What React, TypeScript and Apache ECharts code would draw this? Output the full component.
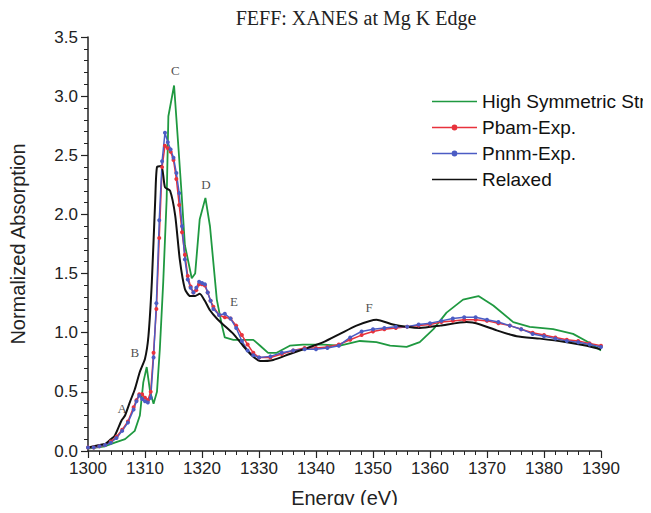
import React, { useEffect, useRef } from "react";
import * as echarts from "echarts";

// ---- Data ----
const seriesNames = ["High Symmetric Str.", "Pbam-Exp.", "Pnnm-Exp.", "Relaxed"];

const highSymE = [1300, 1303, 1304.7, 1306.5, 1308.2, 1309.1, 1309.7, 1310.3, 1310.9, 1311.5, 1312.1, 1312.6, 1313.2, 1313.8, 1314.1, 1315.1, 1315.8, 1316.4, 1317, 1318.2, 1318.8, 1319.6, 1320.6, 1321.4, 1322.6, 1323.5, 1324, 1325.5, 1327.2, 1329, 1330.2, 1331.6, 1333.1, 1335.4, 1337.7, 1341.3, 1344.2, 1347.7, 1350.6, 1353, 1355.9, 1358.2, 1360.6, 1362.9, 1365.8, 1368.5, 1371.1, 1374.6, 1377.5, 1381.6, 1385.1, 1387.8, 1390];
const highSymA = [0.02, 0.04, 0.07, 0.10, 0.17, 0.30, 0.58, 0.71, 0.50, 0.40, 0.50, 0.86, 1.43, 2.13, 2.83, 3.09, 2.61, 2.19, 1.74, 1.46, 1.50, 1.96, 2.14, 1.90, 1.28, 1.06, 0.96, 0.94, 0.94, 0.94, 0.89, 0.83, 0.83, 0.89, 0.90, 0.90, 0.89, 0.93, 0.92, 0.89, 0.88, 0.92, 1.03, 1.17, 1.28, 1.31, 1.23, 1.09, 1.05, 1.03, 0.99, 0.92, 0.85];

const pbamE = [1300, 1301, 1302, 1303, 1304, 1305, 1306, 1307, 1308, 1308.5, 1309, 1309.5, 1310, 1310.5, 1311, 1311.5, 1312, 1312.5, 1313, 1313.5, 1314, 1314.5, 1315, 1315.5, 1316, 1316.5, 1317, 1317.5, 1318, 1318.5, 1319, 1319.5, 1320, 1320.5, 1321, 1321.5, 1322, 1323, 1324, 1325, 1326, 1327, 1328, 1329, 1330, 1332, 1334, 1336, 1338, 1340, 1342, 1344, 1346, 1348, 1350, 1352, 1354, 1356, 1358, 1360, 1362, 1364, 1366, 1368, 1370, 1372, 1374, 1376, 1378, 1380, 1382, 1384, 1386, 1388, 1390];
const pbamA = [0.03, 0.03, 0.04, 0.05, 0.08, 0.12, 0.18, 0.25, 0.37, 0.43, 0.48, 0.48, 0.45, 0.43, 0.50, 0.83, 1.20, 1.80, 2.40, 2.58, 2.56, 2.53, 2.46, 2.30, 2.08, 1.85, 1.66, 1.48, 1.39, 1.34, 1.36, 1.41, 1.41, 1.40, 1.34, 1.27, 1.22, 1.15, 1.13, 1.12, 1.06, 0.98, 0.90, 0.83, 0.79, 0.79, 0.82, 0.85, 0.87, 0.87, 0.88, 0.90, 0.94, 0.98, 1.01, 1.03, 1.04, 1.05, 1.06, 1.07, 1.09, 1.10, 1.11, 1.11, 1.10, 1.08, 1.06, 1.03, 1.00, 0.98, 0.96, 0.94, 0.93, 0.91, 0.89];

const pnnmE = pbamE;
const pnnmA = [0.03, 0.03, 0.04, 0.05, 0.07, 0.11, 0.17, 0.24, 0.35, 0.42, 0.47, 0.44, 0.42, 0.41, 0.45, 0.79, 1.25, 1.95, 2.45, 2.69, 2.61, 2.55, 2.48, 2.35, 2.18, 1.90, 1.62, 1.45, 1.38, 1.34, 1.38, 1.43, 1.42, 1.41, 1.34, 1.27, 1.20, 1.15, 1.16, 1.12, 1.04, 0.93, 0.85, 0.81, 0.79, 0.80, 0.83, 0.85, 0.86, 0.86, 0.87, 0.89, 0.96, 1.01, 1.03, 1.04, 1.05, 1.05, 1.07, 1.08, 1.10, 1.12, 1.13, 1.13, 1.11, 1.09, 1.06, 1.03, 0.99, 0.97, 0.95, 0.93, 0.92, 0.90, 0.88];

const relaxedE = [1300, 1302, 1303, 1304, 1304.7, 1305.9, 1306.5, 1307.4, 1308.2, 1309.1, 1310, 1310.6, 1311.2, 1311.8, 1312.1, 1312.9, 1313.5, 1314.4, 1315.3, 1316.1, 1317, 1317.9, 1318.8, 1319.6, 1320.5, 1321.4, 1322.6, 1323.7, 1325.5, 1327.2, 1328.7, 1330.2, 1332.5, 1335.4, 1338.4, 1341.3, 1344.2, 1347.1, 1350.6, 1353.5, 1355.9, 1358.2, 1361.8, 1366.4, 1368.8, 1371.7, 1375.2, 1379.3, 1384, 1387.5, 1390];
const relaxedA = [0.03, 0.05, 0.06, 0.10, 0.13, 0.26, 0.30, 0.42, 0.52, 0.67, 0.78, 0.97, 1.43, 2.13, 2.40, 2.41, 2.23, 2.20, 1.99, 1.62, 1.37, 1.31, 1.31, 1.33, 1.27, 1.19, 1.12, 1.07, 0.99, 0.89, 0.81, 0.76, 0.77, 0.82, 0.87, 0.92, 0.99, 1.06, 1.11, 1.07, 1.05, 1.04, 1.06, 1.09, 1.07, 1.02, 0.97, 0.95, 0.92, 0.89, 0.86];

const featureLabels = ["A", "B", "C", "D", "E", "F"];
const featureE = [1306.0, 1308.2, 1315.3, 1320.7, 1325.6, 1349.3];
const featureA = [0.36, 0.83, 3.22, 2.25, 1.26, 1.21];

const xTicks = { min: 1300, max: 1390, interval: 10 };
const yTicks = { min: 0, max: 3.5, interval: 0.5 };

const zip = (xs: number[], ys: number[]) => xs.map((x, i) => [x, ys[i]]);

const SANS = '"Liberation Sans", Arial, sans-serif';
const SERIF = '"Liberation Serif", "Times New Roman", serif';

// legend icons: plain line, and line with a small dot in the middle
const ICON_LINE = "path://M0,0L45,0L45,1.6L0,1.6Z";
const ICON_DOT =
  "path://M0,2.7L19.6,2.7L19.6,4.3L0,4.3Z M25.4,2.7L45,2.7L45,4.3L25.4,4.3Z M19.6,3.5A2.9,2.9 0 1 0 25.4,3.5A2.9,2.9 0 1 0 19.6,3.5Z";

export default function App() {
  const ref = useRef<HTMLDivElement>(null);

  useEffect(() => {
    if (!ref.current) return;
    const chart = echarts.init(ref.current, null, { renderer: "svg" });
    const axisColor = "#222";
    chart.setOption({
      animation: false,
      backgroundColor: "#fff",
      graphic: [
        {
          type: "text",
          x: 356,
          y: 18,
          style: {
            text: "FEFF: XANES at Mg K Edge",
            font: `20px ${SERIF}`,
            fill: "#222",
            align: "center",
            verticalAlign: "middle",
          },
        },
      ],
      grid: { left: 88, right: 50, top: 37, bottom: 61 },
      legend: {
        data: [
          { name: seriesNames[0], icon: ICON_LINE },
          { name: seriesNames[1], icon: ICON_DOT },
          { name: seriesNames[2], icon: ICON_DOT },
          { name: seriesNames[3], icon: ICON_LINE },
        ],
        orient: "vertical",
        left: 427,
        top: 87,
        itemWidth: 45,
        itemHeight: 14,
        itemGap: 7,
        textStyle: { fontFamily: SANS, fontSize: 19, color: "#111" },
      },
      xAxis: {
        type: "value",
        min: xTicks.min,
        max: xTicks.max,
        interval: xTicks.interval,
        name: "Energy (eV)",
        nameLocation: "middle",
        nameGap: 37,
        nameTextStyle: { fontFamily: SANS, fontSize: 20, color: "#222" },
        axisLine: { show: true, onZero: false, lineStyle: { color: axisColor, width: 1.5 } },
        axisTick: { show: true, inside: false, length: 7, lineStyle: { color: axisColor, width: 1.2 } },
        minorTick: { show: true, splitNumber: 5, length: 4, lineStyle: { color: axisColor, width: 1 } },
        axisLabel: {
          fontFamily: SANS,
          fontSize: 17,
          color: "#222",
          margin: 9,
          formatter: (v: number) => String(v),
        },
        splitLine: { show: false },
      },
      yAxis: {
        type: "value",
        min: yTicks.min,
        max: yTicks.max,
        interval: yTicks.interval,
        name: "Normalized Absorption",
        nameLocation: "middle",
        nameGap: 60,
        nameRotate: 90,
        nameTextStyle: { fontFamily: SANS, fontSize: 20, color: "#222" },
        axisLine: { show: true, onZero: false, lineStyle: { color: axisColor, width: 1.5 } },
        axisTick: { show: true, inside: false, length: 7, lineStyle: { color: axisColor, width: 1.2 } },
        minorTick: { show: true, splitNumber: 5, length: 4, lineStyle: { color: axisColor, width: 1 } },
        axisLabel: {
          fontFamily: SANS,
          fontSize: 17,
          color: "#222",
          margin: 10,
          formatter: (v: number) => v.toFixed(1),
        },
        splitLine: { show: false },
      },
      series: [
        {
          name: seriesNames[0],
          type: "line",
          data: zip(highSymE, highSymA),
          symbol: "none",
          lineStyle: { color: "#1f9940", width: 1.8 },
          itemStyle: { color: "#1f9940" },
        },
        {
          name: seriesNames[1],
          type: "line",
          data: zip(pbamE, pbamA),
          symbol: "circle",
          symbolSize: 4,
          showSymbol: true,
          lineStyle: { color: "#e8323c", width: 1.5 },
          itemStyle: { color: "#e8323c" },
        },
        {
          name: seriesNames[2],
          type: "line",
          data: zip(pnnmE, pnnmA),
          symbol: "circle",
          symbolSize: 4,
          showSymbol: true,
          lineStyle: { color: "#4b5cc4", width: 1.5 },
          itemStyle: { color: "#4b5cc4" },
        },
        {
          name: seriesNames[3],
          type: "line",
          data: zip(relaxedE, relaxedA),
          symbol: "none",
          smooth: 0.2,
          lineStyle: { color: "#111", width: 2 },
          itemStyle: { color: "#111" },
        },
        {
          name: "features",
          type: "scatter",
          data: featureE.map((e, i) => ({ value: [e, featureA[i]], name: featureLabels[i] })),
          symbolSize: 1,
          itemStyle: { color: "rgba(0,0,0,0)" },
          label: {
            show: true,
            position: "inside",
            formatter: (p: any) => p.name,
            fontFamily: SERIF,
            fontSize: 13,
            color: "#222",
          },
          silent: true,
        },
      ],
    });
    return () => chart.dispose();
  }, []);

  return <div ref={ref} style={{ width: 651, height: 513, margin: -8 }} />;
}
